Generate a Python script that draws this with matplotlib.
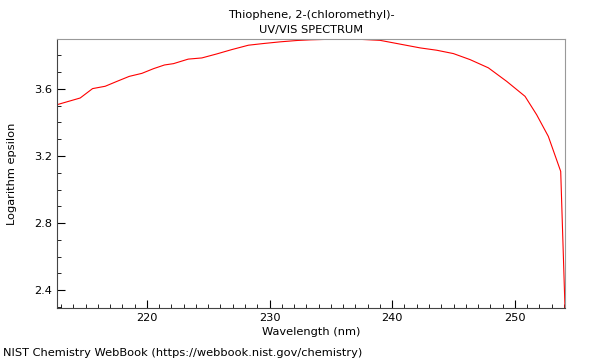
import matplotlib
matplotlib.use("Agg")
import matplotlib.pyplot as plt
from matplotlib.ticker import MultipleLocator

wavelength = [212.67, 214.56, 215.57, 216.60, 217.55, 218.56, 219.59, 220.54, 221.43,
              222.17, 223.37, 224.48, 225.70, 226.93, 228.28, 229.50, 230.86, 232.22,
              233.31, 235.75, 237.38, 239.01, 242.27, 243.63, 244.99, 246.35, 247.84,
              249.34, 250.83, 251.78, 252.73, 253.74, 254.09]
log_eps = [3.506, 3.546, 3.602, 3.616, 3.645, 3.675, 3.693, 3.721, 3.743,
           3.751, 3.778, 3.785, 3.809, 3.835, 3.861, 3.871, 3.881, 3.889,
           3.893, 3.898, 3.896, 3.890, 3.845, 3.831, 3.811, 3.775, 3.726,
           3.645, 3.556, 3.446, 3.317, 3.108, 2.293]
xticks = [220, 230, 240, 250]
yticks = [2.4, 2.8, 3.2, 3.6]

fs = 8.2
fig = plt.figure(figsize=(6, 3.6), dpi=100)
ax = fig.add_axes([57/600, 1-308/360, (565-57)/600, (308-39)/360])
ax.plot(wavelength, log_eps, color="red", lw=0.8)
ax.set_xlim(min(wavelength), max(wavelength))
ax.set_ylim(min(log_eps), max(log_eps))
ax.set_xticks(xticks)
ax.set_yticks(yticks)
ax.set_yticklabels([f"{v:.1f}" for v in yticks])
ax.xaxis.set_minor_locator(MultipleLocator(1))
ax.yaxis.set_minor_locator(MultipleLocator(0.1))
ax.tick_params(which="both", direction="in", labelsize=fs, top=False, right=False)
ax.tick_params(which="major", length=6, width=0.8)
ax.tick_params(which="minor", length=3, width=0.6)
for s in ["left", "bottom"]:
    ax.spines[s].set_color("#444444")
for s in ["top", "right"]:
    ax.spines[s].set_color("#999999")
ax.set_xlabel("Wavelength (nm)", fontsize=fs, labelpad=3)
ax.set_ylabel("Logarithm epsilon", fontsize=fs, labelpad=12)
ax.set_title("Thiophene, 2-(chloromethyl)-\nUV/VIS SPECTRUM", fontsize=fs, pad=4,
             linespacing=1.7)
fig.text(3/600, 1-353/360, "NIST Chemistry WebBook (https://webbook.nist.gov/chemistry)",
         fontsize=fs, va="center", ha="left")
fig.savefig("out.png", dpi=100)
